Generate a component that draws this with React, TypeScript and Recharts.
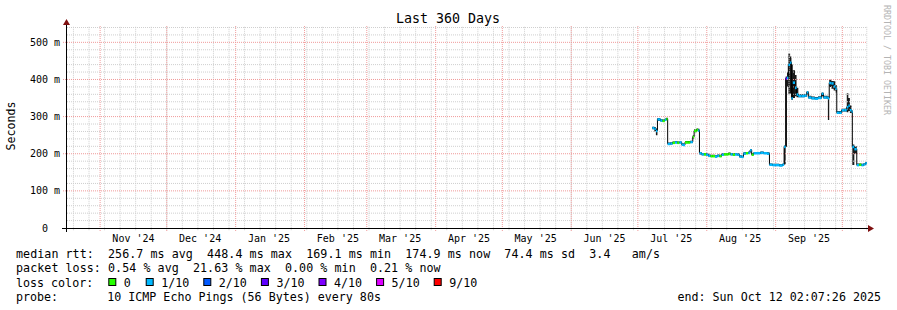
import { ComposedChart, XAxis, YAxis, Line, Area, Scatter, ReferenceLine } from 'recharts';

// days since start of window (Oct 17 2024 02:07), 360 days shown
const days = [
  263.4, 264.3, 265.0, 265.7, 267.0, 268.0, 269.0, 269.7, 270.3, 271.5,
  272.5, 273.6, 274.6, 275.6, 276.6, 277.6, 278.1, 279.5, 280.5, 281.6,
  282.2, 283.3, 284.0, 284.6, 285.6, 286.6, 287.6, 288.6, 289.6, 290.6,
  291.6, 292.6, 293.6, 294.6, 295.6, 296.6, 297.6, 298.6, 299.6, 300.6,
  301.6, 302.6, 303.6, 304.4, 305.5, 306.6, 307.4, 308.1, 309.0, 310.5,
  312.0, 313.5, 315.0, 316.1, 317.5, 319.0, 320.5, 322.0, 322.7, 323.4,
  324.0, 324.6, 325.4, 326.0, 326.6, 327.6, 328.3, 329.1, 330.5, 332.0,
  332.9, 333.6, 335.0, 336.5, 338.0, 339.6, 340.4, 341.9, 342.4, 343.0,
  344.0, 345.0, 345.8, 346.4, 347.5, 348.6, 350.0, 350.9, 351.6, 352.3,
  353.1, 353.4, 354.3, 355.4, 356.5, 357.5, 358.5, 359.3, 359.9,
];
// median rtt (ms)
const median = [
  270, 268, 262, 293, 290, 289, 292, 294, 227, 228,
  230, 231, 230, 231, 225, 224, 231, 231, 232, 246,
  262, 265, 263, 202, 199, 199, 198, 195, 194, 194,
  193, 195, 194, 198, 199, 199, 200, 199, 198, 199,
  198, 193, 192, 201, 202, 203, 210, 198, 202, 202,
  203, 202, 201, 171, 170, 170, 169, 171, 219, 403,
  405, 440, 446, 350, 392, 378, 360, 356, 356, 357,
  366, 352, 350, 349, 351, 362, 352, 352, 350, 391,
  390, 382, 376, 311, 311, 318, 318, 326, 330, 318,
  314, 219, 213, 170, 171, 170, 172, 175, 175,
];
// smoke low / high (ms)
const smokeLo = [
  266, 260, 250, 288, 287, 286, 289, 291, 224, 225,
  227, 228, 227, 228, 222, 221, 228, 228, 229, 240,
  258, 262, 260, 198, 196, 196, 195, 192, 191, 191,
  190, 192, 191, 195, 196, 196, 197, 196, 195, 196,
  195, 190, 189, 198, 199, 200, 206, 195, 199, 199,
  200, 199, 198, 168, 167, 167, 166, 168, 172, 219,
  380, 360, 362, 345, 350, 355, 352, 352, 352, 353,
  360, 349, 347, 346, 348, 355, 349, 348, 291, 380,
  375, 370, 365, 307, 308, 314, 314, 312, 315, 310,
  310, 170, 200, 167, 168, 167, 169, 172, 172,
];
const smokeHi = [
  273, 272, 268, 296, 293, 292, 295, 297, 230, 231,
  233, 234, 233, 233, 228, 227, 234, 234, 235, 250,
  266, 268, 267, 205, 202, 202, 201, 198, 197, 197,
  196, 198, 197, 201, 202, 202, 203, 202, 201, 202,
  201, 196, 195, 204, 205, 206, 213, 201, 205, 205,
  206, 205, 204, 174, 173, 173, 172, 174, 222, 408,
  420, 470, 462, 440, 425, 412, 378, 360, 360, 361,
  369, 356, 354, 353, 355, 365, 356, 356, 354, 399,
  396, 395, 385, 315, 315, 321, 322, 363, 350, 330,
  318, 225, 220, 174, 174, 173, 175, 178, 178,
];
// packet loss (x/10) per sample
const loss = [
  1, 1, 1, 1, 1, 0, 1, 0, 1, 1,
  0, 1, 0, 1, 1, 1, 0, 0, 1, 0,
  0, 0, 1, 1, 1, 0, 1, 1, 0, 0,
  1, 1, 0, 1, 0, 0, 0, 1, 0, 1,
  1, 1, 1, 1, 0, 1, 1, 0, 1, 1,
  1, 1, 1, 1, 1, 1, 1, 1, 1, 3,
  1, 1, 1, 1, 1, 1, 1, 1, 1, 1,
  1, 1, 1, 1, 1, 1, 1, 1, 1, 1,
  1, 1, 1, 1, 1, 1, 1, 1, 1, 1,
  1, 1, 1, 1, 0, 1, 1, 1, 1,
];

const lossColors: Record<number, string> = {
  0: '#26ff00', 1: '#00b8ff', 2: '#0059ff', 3: '#5e00ff', 4: '#7e00ff', 5: '#dd00ff', 9: '#ff0000',
};
const legendLoss = [0, 1, 2, 3, 4, 5, 9];
const legendLabels = ['0', '1/10', '2/10', '3/10', '4/10', '5/10', '9/10'];

const monthStarts = [14.9, 44.9, 75.9, 106.9, 134.9, 165.9, 195.9, 226.9, 256.9, 287.9, 318.9, 348.9];
const monthLabels = ["Nov '24", "Dec '24", "Jan '25", "Feb '25", "Mar '25", "Apr '25", "May '25", "Jun '25", "Jul '25", "Aug '25", "Sep '25"];
const yTicks = [0, 100, 200, 300, 400, 500];

const statLines = [
  'median rtt:  256.7 ms avg  448.4 ms max  169.1 ms min  174.9 ms now  74.4 ms sd  3.4   am/s',
  'packet loss: 0.54 % avg  21.63 % max  0.00 % min  0.21 % now',
];

const W = 897;
const H = 310;
const LEFT = 67;
const RIGHT = 867;
const BOTTOM = 228;
const TOP = 26;
const PX_PER_DAY = (RIGHT - LEFT) / 360;
const MONO = 'DejaVu Sans Mono';

const data = days.map((d, i) => ({
  day: d,
  med: median[i],
  smoke: [smokeLo[i], smokeHi[i]],
  loss: loss[i],
  span: i < days.length - 1 ? days[i + 1] - d : 0,
}));

const weekLines: number[] = [];
for (let d = 2.9; d < 360; d += 7) weekLines.push(d);
const minorY: number[] = [];
for (let v = 20; v <= 540; v += 20) if (v % 100 !== 0) minorY.push(v);

const MedianMark = (props: any) => {
  const { cx, cy, payload } = props;
  if (cx == null || cy == null) return <g />;
  return (
    <rect x={cx} y={cy - 1} width={Math.max(payload.span * PX_PER_DAY, 1)} height={2.5} fill={lossColors[payload.loss]} />
  );
};

const XTick = (props: any) => {
  const { x, payload, index } = props;
  return (
    <text x={x} y={242} textAnchor="middle" fontFamily={MONO} fontSize={10} fill="#000" xmlSpace="preserve">
      {monthLabels[index] ?? payload.value}
    </text>
  );
};

const YTick = (props: any) => {
  const { y, payload } = props;
  const v = payload.value as number;
  return (
    <text x={v === 0 ? 48 : 60} y={y + 3.5} textAnchor="end" fontFamily={MONO} fontSize={10} fill="#000" xmlSpace="preserve">
      {v === 0 ? '0' : `${v} m`}
    </text>
  );
};

const Txt = (props: any) => (
  <text fontFamily={MONO} fontSize={11.66} fill="#000" xmlSpace="preserve" style={{ whiteSpace: 'pre' }} {...props} />
);

export default function App() {
  return (
    <div style={{ position: 'absolute', left: 0, top: 0, width: W, height: H, background: '#fff' }}>
      <ComposedChart width={W} height={H} data={data} margin={{ top: TOP, right: W - RIGHT, left: 0, bottom: 0 }}>
        <XAxis
          dataKey="day"
          type="number"
          domain={[0, 360]}
          ticks={monthStarts.slice(0, monthLabels.length).map((m) => m + 15)}
          interval={0}
          height={H - BOTTOM}
          axisLine={false}
          tickLine={false}
          tick={<XTick />}
          allowDataOverflow
        />
        <YAxis
          type="number"
          domain={[0, 544]}
          ticks={yTicks}
          interval={0}
          width={LEFT}
          axisLine={false}
          tickLine={false}
          tick={<YTick />}
          allowDataOverflow
        />
        {minorY.map((v) => (
          <ReferenceLine key={'hy' + v} y={v} stroke="#cfcfcf" strokeDasharray="1 1" />
        ))}
        {weekLines.map((d) => (
          <ReferenceLine
            key={'wx' + d}
            segment={[{ x: d, y: -6 }, { x: d, y: 544 }]}
            ifOverflow="visible"
            stroke="#cfcfcf"
            strokeDasharray="1 1"
          />
        ))}
        {yTicks.filter((v) => v > 0).map((v) => (
          <ReferenceLine
            key={'my' + v}
            segment={[{ x: -1.8, y: v }, { x: 360, y: v }]}
            ifOverflow="visible"
            stroke="#f09a9a"
            strokeDasharray="1 1"
          />
        ))}
        {monthStarts.map((d) => (
          <ReferenceLine
            key={'mx' + d}
            segment={[{ x: d, y: -8 }, { x: d, y: 544 }]}
            ifOverflow="visible"
            stroke="#f09a9a"
            strokeDasharray="1 1"
          />
        ))}
        <Area dataKey="smoke" type="stepAfter" stroke="none" fill="#1a1a1a" fillOpacity={1} isAnimationActive={false} />
        <Line dataKey="med" type="stepAfter" stroke="#000" strokeWidth={1} dot={false} isAnimationActive={false} />
        <Scatter dataKey="med" shape={<MedianMark />} isAnimationActive={false} />
      </ComposedChart>
      <svg width={W} height={H} style={{ position: 'absolute', left: 0, top: 0, pointerEvents: 'none' }}>
        <line x1={62} y1={BOTTOM + 0.5} x2={869} y2={BOTTOM + 0.5} stroke="#000" strokeWidth={1} />
        <line x1={LEFT - 0.5} y1={232} x2={LEFT - 0.5} y2={24} stroke="#000" strokeWidth={1} />
        <polygon points={`868,${BOTTOM - 3} 874,${BOTTOM + 0.5} 868,${BOTTOM + 4}`} fill="#7f1010" />
        <polygon points={`${LEFT - 4},${TOP - 1} ${LEFT - 0.5},${TOP - 7} ${LEFT + 3},${TOP - 1}`} fill="#7f1010" />
        <text x={448} y={23} textAnchor="middle" fontFamily={MONO} fontSize={13.3} fill="#000">Last 360 Days</text>
        <text x={15} y={126} textAnchor="middle" fontFamily={MONO} fontSize={11.6} fill="#000" transform="rotate(-90 15 126)">Seconds</text>
        <text x={884} y={5} fontFamily={MONO} fontSize={8.3} fill="#b4b4b4" transform="rotate(90 884 5)">RRDTOOL / TOBI OETIKER</text>
        {statLines.map((s, i) => (
          <Txt key={i} x={16} y={258 + i * 14.4} letterSpacing={0.06}>{s}</Txt>
        ))}
        <Txt x={16} y={287}>loss color:</Txt>
        {legendLoss.map((l, i) => {
          const x = i === 0 ? 108.3 : 145.7 + (i - 1) * 57.6;
          return (
            <g key={l}>
              <rect x={x + 0.5} y={278.5} width={7} height={7} fill={lossColors[l]} stroke="#000" strokeWidth={1} />
              <Txt x={x + 15.5} y={287}>{legendLabels[i]}</Txt>
            </g>
          );
        })}
        <Txt x={16} y={301}>{'probe:       10 ICMP Echo Pings (56 Bytes) every 80s'}</Txt>
        <Txt x={881} y={301} textAnchor="end">end: Sun Oct 12 02:07:26 2025</Txt>
      </svg>
    </div>
  );
}
